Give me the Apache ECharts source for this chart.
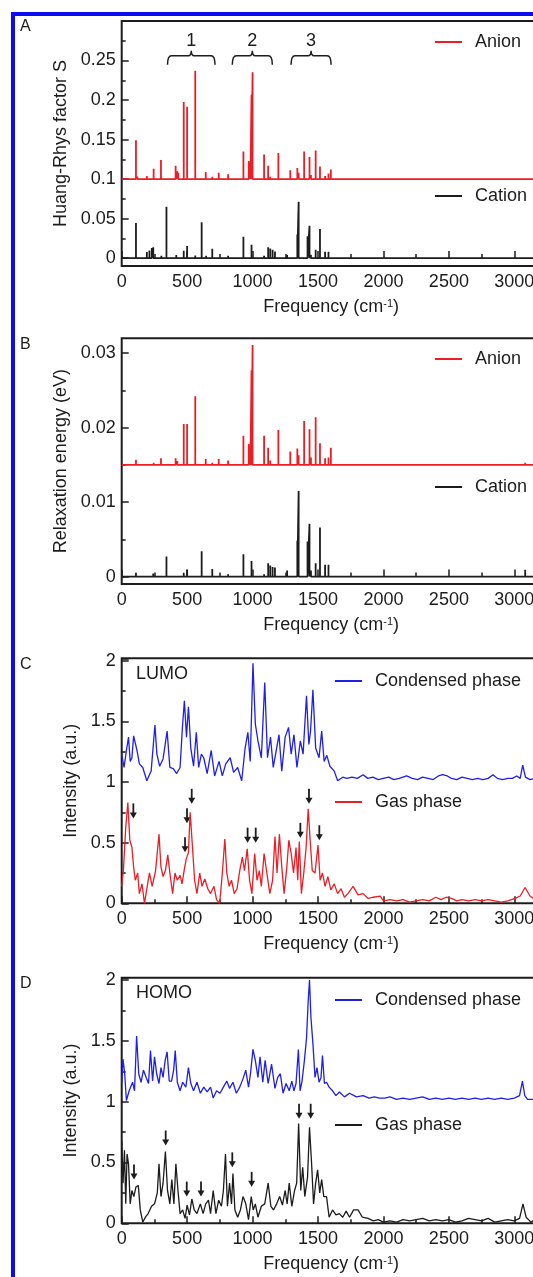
<!DOCTYPE html>
<html>
<head>
<meta charset="utf-8">
<script src="https://cdn.jsdelivr.net/npm/echarts@6/dist/echarts.min.js"></script>
<style>
  html, body { margin: 0; padding: 0; overflow: hidden; background: #fff; }
  #frame { position: absolute; left: 11px; top: 12px; width: 600px; height: 1300px;
           border-left: 4px solid #0c0cf2; border-top: 4px solid #0c0cf2; }
  #chart { position: absolute; left: 0; top: 0; width: 560px; height: 1277px; }
</style>
</head>
<body>
<div id="frame"></div>
<div id="chart"></div>
<script>
// ---------------------------------------------------------------------------
// Donnees (frequence en cm-1, valeur)
// ---------------------------------------------------------------------------
const FREQ_MAX = 3200;
const anionOffsetS = 0.1;   // decalage vertical des sticks anion, panneau A
const anionOffsetE = 0.015; // idem panneau B

const anionS = [[109,0.049],[120,0.003],[192,0.004],[244,0.013],[300,0.024],[412,0.017],[425,0.010],[432,0.008],
  [474,0.0975],[500,0.0915],[562,0.137],[606,0.002],[642,0.009],[692,0.003],[741,0.008],[813,0.006],[930,0.035],
  [971,0.023],[984,0.020],[992,0.107],[1000,0.135],[1088,0.031],[1119,0.017],[1135,0.003],[1197,0.033],[1288,0.011],
  [1342,0.014],[1352,0.008],[1394,0.035],[1435,0.028],[1446,0.005],[1482,0.036],[1515,0.016],[1554,0.004],
  [1580,0.007],[1598,0.012],[3083,0.001]];
const cationS = [[109,0.0445],[192,0.0076],[212,0.0097],[230,0.0127],[241,0.0136],[303,0.003],[342,0.065],[417,0.004],
  [474,0.0093],[500,0.0153],[562,0.0034],[611,0.0453],[645,0.003],[692,0.0119],[744,0.002],[813,0.003],[930,0.027],
  [992,0.017],[1088,0.003],[1119,0.0136],[1135,0.012],[1153,0.0106],[1171,0.0085],[1264,0.004],[1342,0.0297],
  [1352,0.0712],[1420,0.0275],[1435,0.041],[1446,0.004],[1482,0.0106],[1515,0.0369],[1554,0.008],[1580,0.008],
  [3083,0.0017]];

const anionE = [[109,0.0007],[244,0.0003],[300,0.0009],[412,0.0009],[425,0.0005],[474,0.0055],[500,0.0055],
  [562,0.0092],[642,0.0008],[692,0.0003],[741,0.0008],[813,0.0006],[930,0.0039],[971,0.0028],[984,0.0025],
  [992,0.0127],[1000,0.0161],[1088,0.0039],[1119,0.0023],[1135,0.0006],[1197,0.0047],[1288,0.0018],[1342,0.0022],
  [1352,0.0013],[1394,0.0059],[1435,0.0048],[1446,0.001],[1482,0.0064],[1515,0.0029],[1554,0.0009],[1580,0.001],
  [1598,0.0023],[3083,0.0003]];
const cationE = [[109,0.0005],[241,0.0004],[342,0.0027],[417,0.0002],[474,0.0005],[500,0.0009],[611,0.0034],
  [692,0.001],[813,0.0003],[930,0.003],[992,0.0021],[1088,0.0003],[1119,0.0018],[1135,0.0015],[1153,0.0013],
  [1171,0.0012],[1264,0.0008],[1342,0.0048],[1352,0.0115],[1420,0.0047],[1435,0.0071],[1446,0.0008],[1482,0.0018],
  [1515,0.0066],[1554,0.0016],[1580,0.0016],[3083,0.0009]];

const lumoCondensed = [[0,1.23],[18,1.12],[36,1.26],[52,1.37],[65,1.17],[78,1.2],[91,1.38],[104,1.39],[117,1.26],
  [135,1.15],[161,1.12],[192,1.01],[225,1.09],[254,1.47],[269,1.23],[290,1.13],[316,1.19],[347,1.42],[368,1.12],
  [394,1.11],[420,1.07],[446,1.12],[464,1.45],[479,1.67],[495,1.37],[510,1.62],[528,1.28],[549,1.13],[570,1.41],
  [588,1.12],[609,1.23],[627,1.2],[653,1.07],[684,1.26],[710,1.05],[744,1.17],[769,1.05],[795,1.15],[829,1.2],
  [855,1.08],[886,1.12],[917,1.01],[943,1.28],[964,1.41],[982,1.17],[1003,1.98],[1021,1.48],[1041,1.34],[1067,1.2],
  [1093,1.82],[1114,1.2],[1137,1.37],[1158,1.12],[1184,1.28],[1202,1.39],[1223,1.09],[1249,1.37],[1275,1.45],
  [1295,1.23],[1316,1.39],[1339,1.12],[1365,1.34],[1386,1.23],[1412,1.71],[1430,1.31],[1443,1.42],[1461,1.76],
  [1482,1.28],[1508,1.2],[1528,1.42],[1547,1.17],[1567,1.22],[1591,1.13],[1624,1.09],[1650,1.01],[1689,1.04],
  [1720,1.03],[1760,1.04],[1800,1.03],[1845,1.06],[1880,1.03],[1920,1.04],[1960,1.02],[2000,1.03],[2040,1.04],
  [2080,1.02],[2120,1.03],[2177,1.05],[2220,1.03],[2260,1.02],[2300,1.04],[2340,1.03],[2380,1.02],[2420,1.05],
  [2450,1.06],[2488,1.05],[2520,1.03],[2560,1.02],[2600,1.04],[2640,1.03],[2680,1.02],[2720,1.03],[2760,1.02],
  [2800,1.03],[2837,1.06],[2870,1.03],[2910,1.02],[2950,1.03],[2985,1.03],[3018,1.05],[3045,1.03],[3064,1.14],
  [3085,1.04],[3120,1.02],[3160,1.03],[3200,1.02]];
const lumoGas = [[0,0.14],[13,0.27],[31,0.63],[47,0.83],[62,0.52],[78,0.46],[91,0.30],[104,0.19],[122,0.25],
  [135,0.08],[155,0.16],[174,0],[192,0.12],[212,0.25],[233,0.14],[259,0.27],[285,0.57],[300,0.30],[316,0.22],
  [334,0.27],[352,0.40],[368,0.25],[389,0.08],[407,0.25],[425,0.19],[446,0.23],[461,0.16],[477,0.27],[492,0.36],
  [510,0.42],[523,0.75],[541,0.46],[557,0.19],[575,0.08],[596,0.25],[614,0.14],[635,0.20],[658,0.12],[679,0.08],
  [705,0.14],[725,0.03],[749,0],[769,0.25],[788,0.53],[803,0.25],[821,0.14],[839,0.19],[860,0.08],[881,0.12],
  [902,0.27],[922,0.38],[938,0.27],[959,0.45],[977,0.19],[995,0.08],[1016,0.41],[1034,0.19],[1052,0.27],[1067,0.14],
  [1088,0.41],[1109,0.25],[1132,0.08],[1153,0.19],[1171,0.55],[1187,0.25],[1205,0.57],[1223,0.30],[1241,0.08],
  [1262,0.30],[1277,0.52],[1295,0.41],[1313,0.25],[1332,0.46],[1345,0.19],[1357,0.51],[1373,0.08],[1391,0.25],
  [1409,0.46],[1425,0.78],[1440,0.52],[1456,0.27],[1477,0.25],[1500,0.48],[1516,0.19],[1534,0.25],[1554,0.14],
  [1575,0.22],[1598,0.11],[1624,0.16],[1650,0.08],[1676,0.12],[1702,0.05],[1728,0.08],[1768,0.14],[1806,0.07],
  [1845,0.08],[1883,0.04],[1922,0.05],[1975,0.06],[2000,0.02],[2050,0.03],[2100,0.02],[2150,0.03],[2200,0.01],
  [2250,0.02],[2300,0.03],[2350,0.02],[2400,0.05],[2440,0.03],[2480,0.05],[2520,0.04],[2560,0.02],[2600,0.03],
  [2650,0.02],[2700,0.03],[2750,0.02],[2800,0.03],[2850,0.02],[2900,0.01],[2950,0.02],[3006,0.04],[3045,0.06],
  [3082,0.13],[3120,0.06],[3160,0.03],[3200,0.02]];

const homoCondensed = [[0,1.15],[10,1.35],[23,1.23],[36,1.01],[57,1.09],[83,1.16],[98,1.09],[114,1.54],[130,1.23],
  [148,1.16],[166,1.26],[187,1.20],[205,1.15],[220,1.42],[236,1.17],[251,1.37],[267,1.23],[285,1.15],[300,1.28],
  [316,1.20],[332,1.34],[347,1.41],[363,1.17],[381,1.17],[397,1.26],[409,1.42],[425,1.16],[446,1.09],[466,1.16],
  [490,1.12],[510,1.28],[528,1.15],[549,1.09],[575,1.16],[601,1.07],[627,1.12],[653,1.08],[679,1.12],[699,1.03],
  [725,1.09],[751,1.07],[777,1.12],[803,1.17],[824,1.11],[850,1.16],[876,1.07],[902,1.12],[927,1.19],[948,1.26],
  [969,1.12],[984,1.23],[1003,1.43],[1021,1.34],[1041,1.20],[1057,1.37],[1078,1.16],[1096,1.34],[1119,1.15],
  [1145,1.31],[1171,1.11],[1192,1.20],[1212,1.23],[1233,1.07],[1256,1.15],[1280,1.09],[1300,1.17],[1316,1.09],
  [1332,1.15],[1350,1.43],[1363,1.09],[1378,1.17],[1396,1.34],[1412,1.52],[1425,1.83],[1435,2.00],[1446,1.69],
  [1461,1.48],[1477,1.20],[1492,1.28],[1508,1.16],[1523,1.20],[1534,1.38],[1549,1.15],[1565,1.16],[1585,1.12],
  [1611,1.09],[1637,1.05],[1663,1.08],[1702,1.04],[1741,1.07],[1793,1.04],[1845,1.05],[1890,1.03],[1930,1.04],
  [1970,1.03],[2010,1.03],[2050,1.04],[2100,1.02],[2150,1.03],[2200,1.02],[2250,1.03],[2300,1.04],[2350,1.02],
  [2400,1.03],[2450,1.02],[2500,1.03],[2550,1.02],[2600,1.03],[2650,1.02],[2700,1.03],[2750,1.02],[2800,1.03],
  [2850,1.02],[2900,1.03],[2950,1.02],[3000,1.03],[3040,1.05],[3062,1.17],[3080,1.05],[3101,1.02],[3150,1.02],
  [3200,1.02]];
const homoGas = [[0,0.68],[10,0.33],[21,0.60],[31,0.16],[41,0.57],[52,0.49],[65,0.16],[78,0.27],[93,0.22],[109,0.30],
  [127,0.31],[142,0.11],[161,0.01],[181,0.05],[202,0.08],[228,0.14],[251,0.16],[272,0.25],[285,0.49],[300,0.22],
  [316,0.33],[334,0.59],[350,0.27],[368,0.16],[383,0.36],[399,0.16],[414,0.49],[430,0.27],[446,0.08],[466,0.11],
  [484,0.04],[500,0.15],[518,0.07],[536,0.20],[554,0.11],[575,0.08],[601,0.16],[622,0.08],[642,0.16],[663,0.19],
  [679,0.08],[699,0.27],[720,0.08],[741,0.19],[762,0.14],[777,0.27],[793,0.57],[808,0.14],[824,0.33],[839,0.16],
  [850,0.41],[865,0.11],[886,0.05],[907,0.11],[927,0.22],[948,0.16],[969,0.03],[990,0.22],[1005,0.11],[1021,0.16],
  [1041,0.05],[1067,0.14],[1093,0.16],[1119,0.33],[1140,0.14],[1160,0.11],[1184,0.16],[1207,0.22],[1228,0.15],
  [1249,0.27],[1264,0.16],[1280,0.33],[1300,0.14],[1321,0.27],[1337,0.33],[1352,0.82],[1368,0.27],[1383,0.46],
  [1399,0.22],[1420,0.38],[1435,0.79],[1451,0.49],[1466,0.16],[1482,0.33],[1497,0.44],[1513,0.25],[1528,0.36],
  [1544,0.22],[1565,0.22],[1585,0.05],[1611,0.11],[1637,0.07],[1663,0.08],[1689,0.05],[1715,0.10],[1741,0.05],
  [1772,0.11],[1806,0.11],[1839,0.05],[1883,0.04],[1922,0.02],[1960,0.03],[2000,0.01],[2050,0.02],[2100,0.01],
  [2150,0.03],[2200,0.02],[2250,0.03],[2300,0.04],[2350,0.02],[2400,0.03],[2450,0.02],[2500,0.03],[2550,0.01],
  [2600,0.02],[2650,0.04],[2700,0.03],[2750,0.02],[2800,0.04],[2850,0.01],[2900,0.02],[2950,0.03],[3000,0.02],
  [3040,0.04],[3066,0.16],[3090,0.05],[3127,0.01],[3160,0.03],[3200,0.02]];

// fleches : [frequence, pointe]
const lumoArrows = [[89,0.70],[484,0.42],[499,0.66],[535,0.82],[962,0.50],[1024,0.50],[1365,0.54],[1431,0.82],[1510,0.52]];
const homoArrows = [[94,0.36],[336,0.64],[497,0.22],[606,0.22],[845,0.46],[993,0.30],[1355,0.86],[1444,0.86]];

// accolades du panneau A
const bracketFrom = [350, 845, 1294];
const bracketTo = [713, 1151, 1600];
const bracketTags = ["1", "2", "3"];
const bracketLevel = 0.256;

const sTicks = [0, 0.05, 0.1, 0.15, 0.2, 0.25];
const sMinorTicks = [0.025, 0.075, 0.125, 0.175, 0.225, 0.275];
const eTicks = [0, 0.01, 0.02, 0.03];
const eMinorTicks = [0.005, 0.015, 0.025];

// ---------------------------------------------------------------------------
const INK = "#1c1c1c";
const RED = "#ec1d25";
const BLUE = "#1f1fe6";
const FONT = '"Liberation Sans", Arial, sans-serif';
const GRID_LEFT = 121.7;
const GRID_W = 418.8;

function sticks(pairs, base) {
  const pts = [[0, base]];
  pairs.forEach(([f, h]) => pts.push([f, base], [f, base + h], [f, base]));
  pts.push([FREQ_MAX, base]);
  return pts;
}

const txt = { fontSize: 18, color: INK, fontFamily: FONT };

function freqAxis(i) {
  return {
    type: "value", gridIndex: i, min: 0, max: FREQ_MAX, interval: 500,
    axisLine: { show: false },
    axisTick: { inside: true, length: 7, lineStyle: { color: INK, width: 1.5 } },
    minorTick: { show: true, splitNumber: 2, length: 4, lineStyle: { color: INK, width: 1.5 } },
    splitLine: { show: false },
    axisLabel: { ...txt, margin: 7, showMaxLabel: false, formatter: (v) => String(v) },
    name: "Frequency (cm{sup|-1})", nameLocation: "middle", nameGap: 32,
    nameTextStyle: { ...txt, rich: { sup: { fontSize: 11, color: INK, fontFamily: FONT, verticalAlign: "top" } } }
  };
}

function valueAxis(i, min, max, title, major, gap) {
  return {
    type: "value", gridIndex: i, min, max, position: "left",
    axisLine: { show: false },
    axisTick: { inside: true, length: 7, customValues: major, lineStyle: { color: INK, width: 1.5 } },
    splitLine: { show: false },
    axisLabel: { ...txt, margin: 6, customValues: major, formatter: (v) => String(v) },
    name: title, nameLocation: "middle", nameGap: gap, nameTextStyle: txt
  };
}

function minorAxis(i, min, max, minor) {
  return {
    type: "value", gridIndex: i, min, max, position: "left",
    axisLine: { show: false },
    axisTick: { inside: true, length: 4, customValues: minor, lineStyle: { color: INK, width: 1.5 } },
    axisLabel: { show: false }, splitLine: { show: false }
  };
}

function intensityAxis(i) {
  return {
    type: "value", gridIndex: i, min: 0, max: 2.02, interval: 0.5,
    axisLine: { show: false },
    axisTick: { inside: true, length: 7, lineStyle: { color: INK, width: 1.5 } },
    minorTick: { show: true, splitNumber: 2, length: 4, lineStyle: { color: INK, width: 1.5 } },
    splitLine: { show: false },
    axisLabel: { ...txt, margin: 6, showMaxLabel: false, formatter: (v) => String(v) },
    name: "Intensity (a.u.)", nameLocation: "middle", nameGap: 40, nameTextStyle: txt
  };
}

function lineSeries(name, data, color, xi, yi, width) {
  return {
    type: "line", name, data, xAxisIndex: xi, yAxisIndex: yi,
    showSymbol: false, symbol: "none", silent: true,
    lineStyle: { color, width }, itemStyle: { color }
  };
}

function renderArrow(params, api) {
  const p = api.coord([api.value(0), api.value(1)]);
  return {
    type: "group",
    children: [
      { type: "line", shape: { x1: p[0], y1: p[1] - 15, x2: p[0], y2: p[1] - 5 }, style: { stroke: INK, lineWidth: 1.8 } },
      { type: "polygon", shape: { points: [[p[0] - 3.5, p[1] - 6], [p[0] + 3.5, p[1] - 6], [p[0], p[1]]] }, style: { fill: INK } }
    ]
  };
}

function renderBracket(params, api) {
  const a = api.coord([api.value(0), api.value(2)]);
  const b = api.coord([api.value(1), api.value(2)]);
  const m = (a[0] + b[0]) / 2;
  const y = a[1];
  const d = `M${a[0]},${y + 9} Q${a[0]},${y} ${a[0] + 4},${y} L${m - 3},${y} Q${m},${y} ${m},${y - 5}` +
            ` Q${m},${y} ${m + 3},${y} L${b[0] - 4},${y} Q${b[0]},${y} ${b[0]},${y + 9}`;
  return {
    type: "group",
    children: [
      { type: "path", shape: { pathData: d }, style: { stroke: INK, lineWidth: 1.5, fill: null } },
      { type: "text", x: m, y: y - 15,
        style: { text: bracketTags[params.dataIndex], fill: INK, font: `18px ${FONT}`, align: "center", verticalAlign: "middle" } }
    ]
  };
}

function legendAt(name, left, top, style) {
  return {
    left, top, orient: "vertical", padding: 0, selectedMode: false,
    icon: "rect", itemWidth: 27, itemHeight: 2,
    textStyle: { ...txt, padding: [0, 0, 0, 8] },
    data: [style ? { name, itemStyle: style, lineStyle: style } : name]
  };
}

const chart = echarts.init(document.getElementById("chart"), null, { renderer: "canvas" });

chart.setOption({
  animation: false,
  grid: [21, 338.3, 658.3, 977.7].map((top, i) => ({
    left: GRID_LEFT, top, width: GRID_W, height: [245, 245.7, 245, 245.6][i],
    show: true, borderColor: INK, borderWidth: 2, backgroundColor: "transparent"
  })),
  xAxis: [0, 1, 2, 3].map(freqAxis),
  yAxis: [
    valueAxis(0, -0.01, 0.30, "Huang-Rhys factor S", sTicks, 50),
    minorAxis(0, -0.01, 0.30, sMinorTicks),
    valueAxis(1, -0.001, 0.032, "Relaxation energy (eV)", eTicks, 50),
    minorAxis(1, -0.001, 0.032, eMinorTicks),
    intensityAxis(2),
    intensityAxis(3)
  ],
  legend: [
    legendAt("Anion", 435, 33),
    legendAt("Cation", 435, 187),
    legendAt("Anion", 435, 350),
    legendAt("Cation", 435, 478),
    legendAt("Condensed phase", 335, 672),
    legendAt("Gas phase", 335, 793, { color: RED }),
    legendAt("Condensed phase", 335, 991),
    legendAt("Gas phase", 335, 1116, { color: INK })
  ],
  graphic: [
    ["A", 27.5], ["B", 346], ["C", 666], ["D", 985]
  ].map(([t, y]) => ({
    type: "text", left: 20, top: y - 9, silent: true,
    style: { text: t, fill: INK, font: `16px ${FONT}` }
  })).concat([
    ["LUMO", 675.3], ["HOMO", 994.5]
  ].map(([t, y]) => ({
    type: "text", left: 136, top: y - 10, silent: true,
    style: { text: t, fill: INK, font: `18px ${FONT}` }
  }))),
  series: [
    lineSeries("Anion", sticks(anionS, anionOffsetS), RED, 0, 0, 1.8),
    lineSeries("Cation", sticks(cationS, 0), INK, 0, 0, 1.8),
    {
      type: "custom", xAxisIndex: 0, yAxisIndex: 0, silent: true, clip: false,
      renderItem: renderBracket,
      data: bracketFrom.map((f, i) => [f, bracketTo[i], bracketLevel])
    },
    lineSeries("Anion", sticks(anionE, anionOffsetE), RED, 1, 2, 1.8),
    lineSeries("Cation", sticks(cationE, 0), INK, 1, 2, 1.8),
    lineSeries("Condensed phase", lumoCondensed, BLUE, 2, 4, 1.3),
    lineSeries("Gas phase", lumoGas, RED, 2, 4, 1.3),
    { type: "custom", xAxisIndex: 2, yAxisIndex: 4, silent: true, clip: false, renderItem: renderArrow, data: lumoArrows },
    lineSeries("Condensed phase", homoCondensed, BLUE, 3, 5, 1.3),
    lineSeries("Gas phase", homoGas, INK, 3, 5, 1.3),
    { type: "custom", xAxisIndex: 3, yAxisIndex: 5, silent: true, clip: false, renderItem: renderArrow, data: homoArrows }
  ]
});
</script>
</body>
</html>
